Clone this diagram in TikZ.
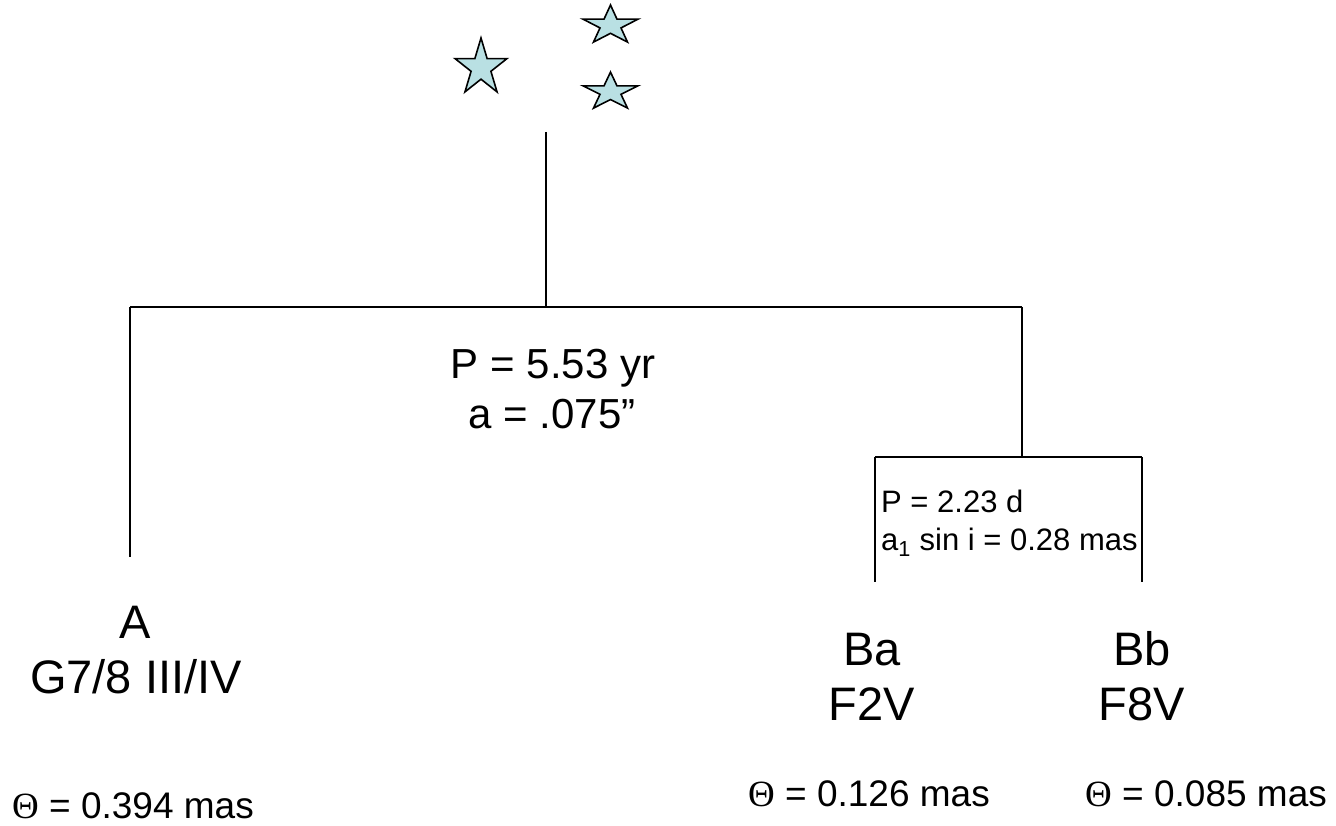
\documentclass[tikz,border=0pt]{standalone}
\usepackage{fontspec}
\setmainfont{Liberation Sans}
\newfontfamily\thetafont{Liberation Serif}
\definecolor{starfill}{HTML}{B9E0E3}
\tikzset{
  wire/.style={draw=black, line width=1.4pt},
  starsty/.style={draw=black, fill=starfill, line width=1.6pt, line join=miter},
  bigtxt/.style={inner sep=0pt, font=\fontsize{42}{50}\selectfont},
  nametxt/.style={inner sep=0pt, font=\fontsize{47}{55}\selectfont},
  smalltxt/.style={inner sep=0pt, font=\fontsize{31}{38}\selectfont},
  thetatxt/.style={inner sep=0pt, font=\fontsize{37}{44}\selectfont},
}
\newcommand\mystar[4]{%
  \draw[starsty] (#1,#2)
    +(270:#3 and #4) -- +(306:0.382*#3 and 0.382*#4)
 -- +(342:#3 and #4) -- +(18:0.382*#3 and 0.382*#4)
 -- +(54:#3 and #4)  -- +(90:0.382*#3 and 0.382*#4)
 -- +(126:#3 and #4) -- +(162:0.382*#3 and 0.382*#4)
 -- +(198:#3 and #4) -- +(234:0.382*#3 and 0.382*#4) -- cycle;}
\newcommand\thsym{{\thetafont Θ}}
\begin{document}
\begin{tikzpicture}[x=1pt,y=-1pt]
\useasboundingbox (0,0) rectangle (1336,826);
% stars
\mystar{481}{67.8}{27.3}{29.8}
\mystar{610.5}{25.5}{28.9}{20.5}
\mystar{610.5}{92}{28.9}{19.9}
% tree coordinates
\coordinate (top) at (546,132);
\coordinate (j1) at (546,307);
\coordinate (aL) at (130,307);
\coordinate (aB) at (130,557);
\coordinate (bR) at (1022,307);
\coordinate (bJ) at (1022,457);
\coordinate (baT) at (875,457);
\coordinate (baB) at (875,582);
\coordinate (bbT) at (1142,457);
\coordinate (bbB) at (1142,582);
\draw[wire] (top) -- (j1);
\draw[wire] (aL) -- (bR);
\draw[wire] (aL) -- (aB);
\draw[wire] (bR) -- (bJ);
\draw[wire] (baT) -- (bbT);
\draw[wire] (baT) -- (baB);
\draw[wire] (bbT) -- (bbB);
% orbit labels
\node[bigtxt, anchor=base] (pA) at (553,378) {P = 5.53 yr};
\node[bigtxt, anchor=base] (aA) at (552,428) {a = .075”};
\node[smalltxt, anchor=base west] (pB) at (881,512) {P = 2.23 d};
\node[smalltxt, anchor=base west] (aB1) at (881,550) {a\textsubscript{1} sin i = 0.28 mas};
% star names
\node[nametxt, anchor=base] (nA) at (135,638) {A};
\node[nametxt, anchor=base] (sA) at (136,693) {G7/8 III/IV};
\node[nametxt, anchor=base] (nBa) at (872,665) {Ba};
\node[nametxt, anchor=base] (sBa) at (872,720) {F2V};
\node[nametxt, anchor=base] (nBb) at (1142,665) {Bb};
\node[nametxt, anchor=base] (sBb) at (1142,720) {F8V};
% diameters
\node[thetatxt, anchor=base west] (tA) at (12,818) {\thsym\ = 0.394 mas};
\node[thetatxt, anchor=base west] (tBa) at (748,806) {\thsym\ = 0.126 mas};
\node[thetatxt, anchor=base west] (tBb) at (1085,806) {\thsym\ = 0.085 mas};
\end{tikzpicture}
\end{document}
